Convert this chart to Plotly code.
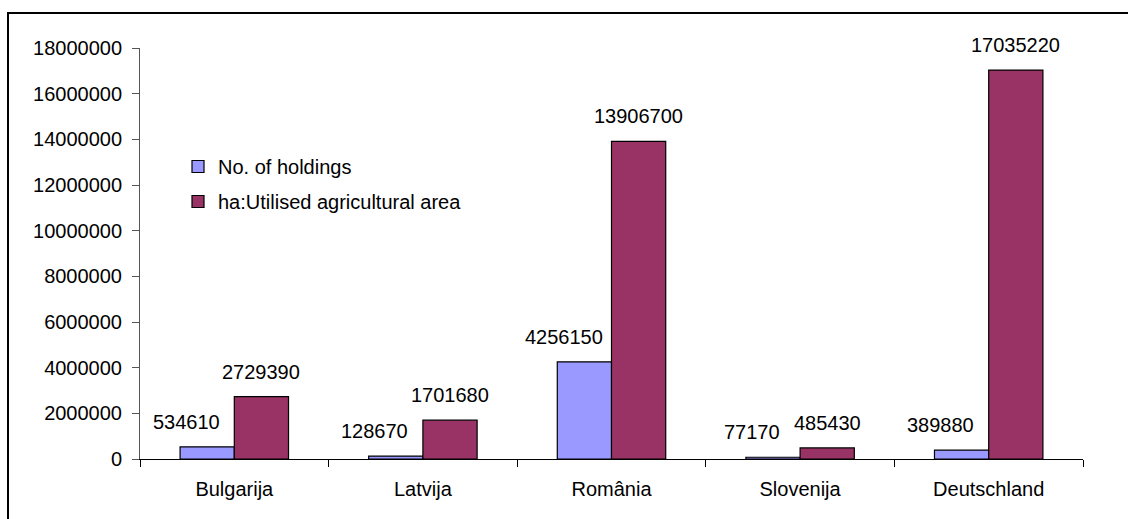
import plotly.graph_objects as go

categories = ["Bulgarija", "Latvija", "România", "Slovenija", "Deutschland"]
holdings = [534610, 128670, 4256150, 77170, 389880]
area = [2729390, 1701680, 13906700, 485430, 17035220]
series_names = ["No. of holdings", "ha:Utilised agricultural area"]
y_ticks = [0, 2000000, 4000000, 6000000, 8000000, 10000000, 12000000, 14000000, 16000000, 18000000]

FONT = "Liberation Sans, Arial, sans-serif"
W, H = 1128, 519
ML, MR, MT, MB = 140, 45, 48, 60
pw = W - ML - MR
ph = H - MT - MB

fig = go.Figure()
fig.add_trace(go.Bar(x=categories, y=holdings, name=series_names[0], legendgroup="a",
                     marker=dict(color="#9999FF", line=dict(color="black", width=1.2))))
fig.add_trace(go.Bar(x=categories, y=area, name=series_names[1], legendgroup="b",
                     marker=dict(color="#993366", line=dict(color="black", width=1.2))))

annotations = []
for c, v in zip(categories, holdings):
    annotations.append(dict(x=c, y=v, xref="x", yref="y", text=str(v), showarrow=False,
                            xshift=-48, yshift=25, yanchor="middle",
                            font=dict(family=FONT, size=20, color="black")))
for c, v in zip(categories, area):
    annotations.append(dict(x=c, y=v, xref="x", yref="y", text=str(v), showarrow=False,
                            xshift=27, yshift=25, yanchor="middle",
                            font=dict(family=FONT, size=20, color="black")))

# outer chart border
bx0 = (8 - ML) / pw
bx1 = (W + 5 - ML) / pw
by1 = (H - MB - 13) / ph
by0 = (H - MB - (H + 5)) / ph

fig.update_layout(
    width=W, height=H,
    margin=dict(l=ML, r=MR, t=MT, b=MB),
    paper_bgcolor="white", plot_bgcolor="white",
    barmode="group", bargap=0.425, bargroupgap=0,
    font=dict(family=FONT, size=20, color="black"),
    annotations=annotations,
    shapes=[dict(type="rect", xref="paper", yref="paper", x0=bx0, x1=bx1, y0=by0, y1=by1,
                 line=dict(color="black", width=2), fillcolor="rgba(0,0,0,0)", layer="below")],
    legend=dict(x=(178 - ML) / pw, y=(H - MB - 147) / ph, xanchor="left", yanchor="top",
                bgcolor="rgba(0,0,0,0)", font=dict(family=FONT, size=20, color="black"),
                tracegroupgap=6, itemwidth=30),
    showlegend=True,
    xaxis=dict(showline=True, linecolor="black", linewidth=1, ticks="outside",
               tickson="boundaries", ticklen=7, tickcolor="black", showgrid=False,
               ticklabelstandoff=12,
               tickfont=dict(family=FONT, size=20, color="black")),
    yaxis=dict(range=[0, 18000000], tickvals=y_ticks, ticktext=[str(t) for t in y_ticks],
               showline=True, linecolor="#555555", linewidth=1, ticks="outside", ticklen=7,
               tickcolor="#555555", showgrid=False, zeroline=False, ticklabelstandoff=6,
               tickfont=dict(family=FONT, size=20, color="black")),
)

fig.write_html("out.html")
